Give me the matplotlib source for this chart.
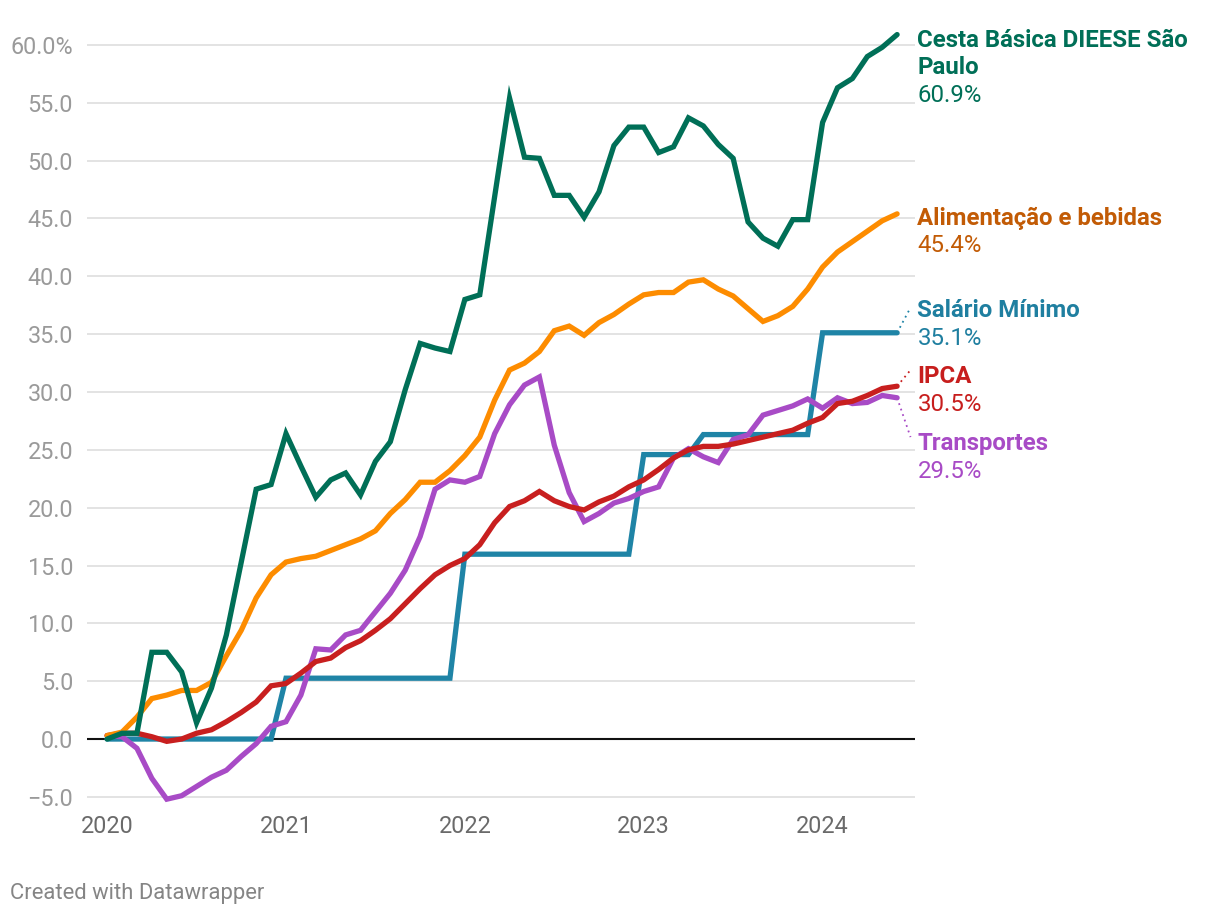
import matplotlib.pyplot as plt
import matplotlib.transforms as mtransforms
import numpy as np

plt.rcParams['font.family'] = ['Roboto', 'DejaVu Sans']

# monthly, Jan 2020 .. Jun 2024 (accumulated change since Jan 2020, %)
years = ['2020', '2021', '2022', '2023', '2024']

cesta = [0.0, 0.5, 0.5, 7.5, 7.5, 5.8, 1.4, 4.4, 9.0, 15.3, 21.6, 22.0,
         26.4, 23.6, 20.9, 22.4, 23.0, 21.1, 24.0, 25.7, 30.2, 34.2, 33.8, 33.5,
         38.0, 38.4, 46.9, 55.4, 50.3, 50.2, 47.0, 47.0, 45.1, 47.3, 51.3, 52.9,
         52.9, 50.7, 51.2, 53.7, 53.0, 51.4, 50.2, 44.7, 43.3, 42.6, 44.9, 44.9,
         53.3, 56.3, 57.1, 59.0, 59.8, 60.9]

alimentacao = [0.3, 0.6, 1.9, 3.5, 3.8, 4.2, 4.2, 4.9, 7.2, 9.4, 12.2, 14.2,
               15.3, 15.6, 15.8, 16.3, 16.8, 17.3, 18.0, 19.5, 20.7, 22.2, 22.2, 23.2,
               24.5, 26.1, 29.3, 31.9, 32.5, 33.5, 35.3, 35.7, 34.9, 36.0, 36.7, 37.6,
               38.4, 38.6, 38.6, 39.5, 39.7, 38.9, 38.3, 37.2, 36.1, 36.6, 37.4, 38.9,
               40.8, 42.1, 43.0, 43.9, 44.8, 45.4]

salario = ([0.0] * 12 + [5.26] * 12 + [15.98] * 12 + [24.59] * 4
           + [26.32] * 8 + [35.12] * 6)

ipca = [0.3, 0.5, 0.5, 0.2, -0.2, 0.0, 0.5, 0.8, 1.5, 2.3, 3.2, 4.6,
        4.8, 5.7, 6.7, 7.0, 7.9, 8.5, 9.4, 10.4, 11.7, 13.0, 14.2, 15.0,
        15.6, 16.8, 18.7, 20.1, 20.6, 21.4, 20.6, 20.1, 19.8, 20.5, 21.0, 21.8,
        22.4, 23.3, 24.3, 25.0, 25.3, 25.3, 25.5, 25.8, 26.1, 26.4, 26.7, 27.3,
        27.8, 29.0, 29.2, 29.7, 30.3, 30.5]

transportes = [0.3, 0.2, -0.8, -3.4, -5.2, -4.9, -4.1, -3.3, -2.7, -1.5, -0.4, 1.1,
               1.5, 3.8, 7.8, 7.7, 9.0, 9.4, 11.0, 12.6, 14.6, 17.5, 21.6, 22.4,
               22.2, 22.7, 26.4, 28.9, 30.6, 31.3, 25.4, 21.3, 18.8, 19.5, 20.4, 20.8,
               21.4, 21.8, 24.3, 25.1, 24.4, 23.9, 25.9, 26.3, 28.0, 28.4, 28.8, 29.4,
               28.6, 29.5, 29.0, 29.1, 29.7, 29.5]

# name lines, value text, line colour, text colour, label baseline, connector end
series = [
    (salario, ['Salário Mínimo'], '35.1%', '#1f84a6', '#1f7fa0', 36.48, 37.3),
    (transportes, ['Transportes'], '29.5%', '#a84bc6', '#a84bc6', 24.98, 26.1),
    (ipca, ['IPCA'], '30.5%', '#c81f1f', '#c71e1d', 30.77, 31.9),
    (alimentacao, ['Alimentação e bebidas'], '45.4%', '#fd8c00', '#c25b05', 44.44, None),
    (cesta, ['Cesta Básica DIEESE São', 'Paulo'], '60.9%', '#006f57', '#006f57', 59.85, None),
]

yticks = [-5, 0, 5, 10, 15, 20, 25, 30, 35, 40, 45, 50, 55, 60]
ytick_labels = ['\u22125.0'] + ['%.1f' % v for v in yticks[1:-1]] + ['60.0%']

fig = plt.figure(figsize=(12.2, 9.16), dpi=100)
ax = fig.add_axes([87 / 1220, 1 - 800 / 916, 828 / 1220, 760 / 916])

x = np.arange(len(cesta))
for i, (vals, names, val_txt, lc, tc, ly, cy) in enumerate(series):
    ax.plot(x, vals, color=lc, lw=3.8, solid_joinstyle='miter', solid_capstyle='round',
            zorder=3 + i, clip_on=False)
    if cy is not None:
        ax.plot([x[-1], x[-1] + 0.9], [vals[-1], cy], color=lc, lw=1.3,
                ls=(0, (1, 2.2)), zorder=3, clip_on=False)
    for k, name in enumerate(names):
        tr = mtransforms.offset_copy(ax.transData, fig=fig, y=-27.5 * k, units='dots')
        ax.text(54.36, ly, name, transform=tr, color=tc, fontsize=17.3,
                fontweight='bold', va='baseline', ha='left', clip_on=False)
    tr = mtransforms.offset_copy(ax.transData, fig=fig, y=-27.5 * len(names), units='dots')
    ax.text(54.36, ly, val_txt, transform=tr, color=tc, fontsize=17.3,
            va='baseline', ha='left', clip_on=False)

ax.axhline(0, color='#111111', lw=1.5, zorder=2)

ax.set_xlim(-1.35, 54.2)
ax.set_ylim(-5.27, 60.43)
ax.set_yticks(yticks)
ax.set_yticklabels(ytick_labels)
ax.set_xticks(np.arange(0, 49, 12))
ax.set_xticklabels(years)
ax.grid(axis='y', color='#e3e3e3', lw=1.4, zorder=0)
ax.set_axisbelow(True)
ax.tick_params(axis='y', length=0, pad=10, labelsize=16.8, labelcolor='#9a9a9a')
ax.tick_params(axis='x', length=0, pad=11, labelsize=16.8, labelcolor='#6a6a6a')
for s in ax.spines.values():
    s.set_visible(False)

fig.text(10 / 1220, 1 - 899 / 916, 'Created with Datawrapper', fontsize=15.8,
         color='#858585', ha='left', va='baseline')

fig.savefig('out.png', dpi=100)
